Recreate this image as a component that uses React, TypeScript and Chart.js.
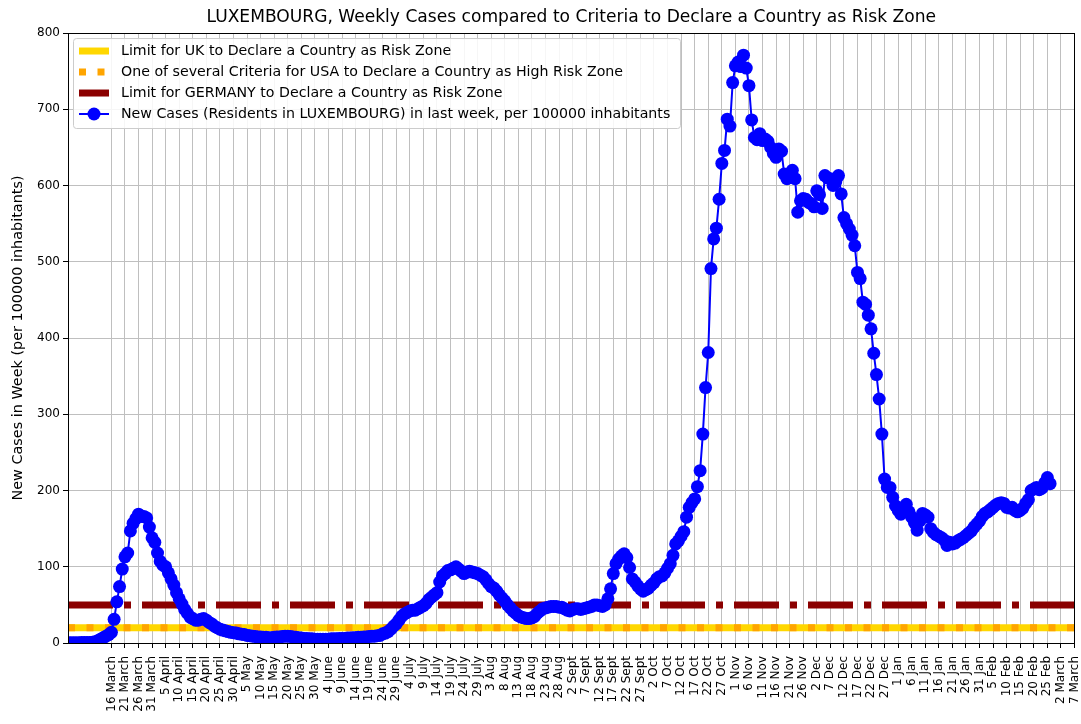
import React, { useEffect, useRef } from 'react';
import { Chart, registerables } from 'chart.js';

Chart.register(...registerables);

const TITLE = 'LUXEMBOURG, Weekly Cases compared to Criteria to Declare a Country as Risk Zone';
const Y_LABEL = 'New Cases in Week (per 100000 inhabitants)';

const TICK_LABELS = [
  '16 March', '21 March', '26 March', '31 March', '5 April', '10 April', '15 April', '20 April',
  '25 April', '30 April', '5 May', '10 May', '15 May', '20 May', '25 May', '30 May', '4 June',
  '9 June', '14 June', '19 June', '24 June', '29 June', '4 July', '9 July', '14 July', '19 July',
  '24 July', '29 July', '3 Aug', '8 Aug', '13 Aug', '18 Aug', '23 Aug', '28 Aug', '2 Sept',
  '7 Sept', '12 Sept', '17 Sept', '22 Sept', '27 Sept', '2 Oct', '7 Oct', '12 Oct', '17 Oct',
  '22 Oct', '27 Oct', '1 Nov', '6 Nov', '11 Nov', '16 Nov', '21 Nov', '26 Nov', '2 Dec', '7 Dec',
  '12 Dec', '17 Dec', '22 Dec', '27 Dec', '1 Jan', '6 Jan', '11 Jan', '16 Jan', '21 Jan', '26 Jan',
  '31 Jan', '5 Feb', '10 Feb', '15 Feb', '20 Feb', '25 Feb', '2 March', '7 March',
];
const TICK_STEP = 5;
const FIRST_DAY = -16; // day index of the first value (16 March = 0)
const LAST_DAY = 355;  // right end of the axis (7 March)

const UK_LIMIT = 20;
const USA_LIMIT = 20;
const GERMANY_LIMIT = 50;

const LEGEND_LABELS = [
  'Limit for UK to Declare a Country as Risk Zone',
  'One of several Criteria for USA to Declare a Country as High Risk Zone',
  'Limit for GERMANY to Declare a Country as Risk Zone',
  'New Cases (Residents in LUXEMBOURG) in last week, per 100000 inhabitants',
];

// one value per day, starting at FIRST_DAY
const weeklyCases = [
  0.2, 0.2, 0.2, 0.3, 0.3, 0.5, 0.5, 0.6, 0.8, 1.0, 1.5, 3, 5, 7, 9, 11,
  14, 31, 54, 74, 97, 113, 118, 147, 157, 163, 169, 166, 166, 164, 152, 138, 132, 118, 107, 102,
  100, 92, 84, 76, 66, 58, 51, 44, 39, 34, 32, 30, 30, 31, 32, 30, 27, 25, 22, 20, 18, 17, 16, 15, 14, 13.5, 13, 12, 11.5, 11, 10,
  9.5, 9, 8.5, 8, 8, 7.5, 7.5, 7, 7, 7.5, 8, 8, 8.5, 9, 9, 8.5, 8, 7.5, 7, 6.5, 6, 6, 5.5, 5.5, 5,
  5, 5, 5, 5, 5, 5.5, 5.5, 5.5, 6, 6, 6, 6.5, 6.5, 7, 7, 7.5, 7.5, 8, 8, 8.5, 9, 9, 9.5, 10, 12,
  13, 15, 18, 22, 25, 30, 35, 38, 40, 42, 43, 43, 45, 47, 49, 52, 57, 60, 63, 66,
  80, 88, 91, 95, 96, 98, 100, 97, 94, 91, 93, 94, 93, 92, 91, 89, 87, 83, 78, 74,
  72, 68, 63, 59, 55, 50, 46, 42, 39, 36, 34, 33, 32, 32, 33, 35, 39, 42, 45, 46,
  47, 48, 48, 48, 47, 47, 45, 43, 42, 44, 45, 45, 44, 45, 46, 47, 48, 50, 50, 49, 48,
  50, 58, 71, 91, 104, 110, 114, 117, 112, 99, 84, 80, 75, 71, 68, 70, 72, 76, 79,
  84, 87, 88, 92, 98, 104, 115, 130, 134, 140, 146, 165, 178, 184, 189, 205, 226, 274, 335, 381,
  491, 530, 544, 582, 629, 646, 687, 678, 735, 757, 762, 756, 771, 754, 731,
  686, 663, 660, 668, 659, 661, 658, 650, 642, 637, 648, 645, 615, 609, 615, 620, 609, 565,
  580, 583, 582, 578, 576, 572, 593, 588, 570, 613, 610, 609, 600, 605, 613, 589,
  558, 550, 543, 535, 521, 486, 478, 447, 444, 430, 412, 380, 352, 320, 274, 215, 204, 204, 191, 180,
  174, 169, 175, 182, 172, 165, 158, 148, 160, 170, 168, 165, 150, 145, 142, 140, 138, 135, 128, 132, 130,
  131, 134, 136, 138, 141, 144, 147, 152, 156, 160, 166, 170, 172, 175, 178, 181, 183, 184, 183, 178,
  177, 178, 174, 172, 174, 177, 183, 188, 200, 202, 204, 201, 203, 210, 217, 209,
];

const FONT = 'DejaVu Sans';
const UK_COLOR = '#FFD700';
const USA_COLOR = '#FFA500';
const GERMANY_COLOR = '#8B0000';
const CASES_COLOR = '#0000FF';
const LIMIT_WIDTH = 7;
const USA_DASH = [7, 11.5];
const GERMANY_DASH = [45, 11, 7, 11];

const framePlugin = {
  id: 'mplFrame',
  afterDatasetsDraw(chart: any) {
    const { ctx, chartArea } = chart;
    ctx.save();
    ctx.strokeStyle = '#000000';
    ctx.lineWidth = 1;
    ctx.strokeRect(
      Math.round(chartArea.left) + 0.5,
      Math.round(chartArea.top) + 0.5,
      Math.round(chartArea.right - chartArea.left) - 1,
      Math.round(chartArea.bottom - chartArea.top),
    );
    ctx.restore();
  },
};

const legendPlugin = {
  id: 'mplLegend',
  afterDraw(chart: any) {
    const { ctx, chartArea } = chart;
    const x0 = chartArea.left + 5;
    const y0 = chartArea.top + 5;
    const w = 607;
    const h = 90;
    ctx.save();
    ctx.beginPath();
    if (ctx.roundRect) ctx.roundRect(x0 + 0.5, y0 + 0.5, w, h, 3);
    else ctx.rect(x0 + 0.5, y0 + 0.5, w, h);
    ctx.fillStyle = 'rgba(255,255,255,0.85)';
    ctx.fill();
    ctx.strokeStyle = '#cccccc';
    ctx.lineWidth = 1;
    ctx.stroke();

    const hx0 = chartArea.left + 11;
    const hx1 = chartArea.left + 41;
    const tx = chartArea.left + 53;
    const rows = [18, 39, 60, 81].map((d) => chartArea.top + d);

    ctx.lineCap = 'butt';
    ctx.beginPath();
    ctx.strokeStyle = UK_COLOR;
    ctx.lineWidth = LIMIT_WIDTH;
    ctx.setLineDash([]);
    ctx.moveTo(hx0, rows[0]);
    ctx.lineTo(hx1, rows[0]);
    ctx.stroke();

    ctx.beginPath();
    ctx.strokeStyle = USA_COLOR;
    ctx.setLineDash(USA_DASH);
    ctx.moveTo(hx0, rows[1]);
    ctx.lineTo(hx1, rows[1]);
    ctx.stroke();

    ctx.beginPath();
    ctx.strokeStyle = GERMANY_COLOR;
    ctx.setLineDash([]);
    ctx.moveTo(hx0, rows[2]);
    ctx.lineTo(hx1, rows[2]);
    ctx.stroke();

    ctx.beginPath();
    ctx.strokeStyle = CASES_COLOR;
    ctx.lineWidth = 2;
    ctx.moveTo(hx0, rows[3]);
    ctx.lineTo(hx1, rows[3]);
    ctx.stroke();
    ctx.beginPath();
    ctx.fillStyle = CASES_COLOR;
    ctx.arc((hx0 + hx1) / 2, rows[3], 6.5, 0, Math.PI * 2);
    ctx.fill();

    ctx.fillStyle = '#000000';
    ctx.font = `14.2px "${FONT}"`;
    ctx.textBaseline = 'middle';
    ctx.textAlign = 'left';
    LEGEND_LABELS.forEach((t, k) => ctx.fillText(t, tx, rows[k] + 0.5));
    ctx.restore();
  },
};

export default function App() {
  const canvasRef = useRef<HTMLCanvasElement | null>(null);

  useEffect(() => {
    if (!canvasRef.current) return;
    const cases = weeklyCases.map((v, k) => ({ x: FIRST_DAY + k, y: v }));
    const limitLine = (v: number) => [
      { x: FIRST_DAY, y: v },
      { x: LAST_DAY, y: v },
    ];

    const chart = new Chart(canvasRef.current, {
      type: 'line',
      data: {
        datasets: [
          {
            label: LEGEND_LABELS[3],
            data: cases,
            borderColor: CASES_COLOR,
            backgroundColor: CASES_COLOR,
            borderWidth: 2,
            pointRadius: 6.5,
            pointBorderWidth: 0,
            pointBackgroundColor: CASES_COLOR,
            tension: 0,
            clip: 0,
            order: 0,
          },
          {
            label: LEGEND_LABELS[2],
            data: limitLine(GERMANY_LIMIT),
            borderColor: GERMANY_COLOR,
            borderWidth: LIMIT_WIDTH,
            borderDash: GERMANY_DASH,
            borderCapStyle: 'butt',
            pointRadius: 0,
            order: 1,
          },
          {
            label: LEGEND_LABELS[1],
            data: limitLine(USA_LIMIT),
            borderColor: USA_COLOR,
            borderWidth: LIMIT_WIDTH,
            borderDash: USA_DASH,
            borderCapStyle: 'butt',
            pointRadius: 0,
            order: 2,
          },
          {
            label: LEGEND_LABELS[0],
            data: limitLine(UK_LIMIT),
            borderColor: UK_COLOR,
            borderWidth: LIMIT_WIDTH,
            borderCapStyle: 'butt',
            pointRadius: 0,
            order: 3,
          },
        ] as any,
      },
      options: {
        responsive: true,
        maintainAspectRatio: false,
        animation: false,
        devicePixelRatio: 1,
        layout: { padding: { top: 0, right: 6, bottom: 0, left: 0 } },
        plugins: {
          legend: { display: false },
          tooltip: { enabled: false },
          title: {
            display: true,
            text: TITLE,
            fullSize: false,
            color: '#000000',
            font: { family: FONT, size: 17.1, weight: 'normal' },
            padding: { top: 7.7, bottom: 4.8 },
          },
        },
        scales: {
          x: {
            type: 'linear',
            min: FIRST_DAY,
            max: LAST_DAY,
            afterBuildTicks: (scale: any) => {
              scale.ticks = TICK_LABELS.map((_, k) => ({ value: k * TICK_STEP }));
            },
            afterFit: (scale: any) => {
              scale.height = 81;
              scale.paddingLeft = 0;
              scale.paddingRight = 0;
            },
            ticks: {
              autoSkip: false,
              minRotation: 90,
              maxRotation: 90,
              padding: 8,
              color: '#000000',
              font: { family: FONT, size: 12 },
              callback: (value: any) => TICK_LABELS[Math.round(Number(value) / TICK_STEP)] ?? '',
            },
            grid: {
              color: '#bfbfbf',
              lineWidth: 1,
              tickColor: '#000000',
              tickLength: 5,
              tickWidth: 1,
            },
            border: { display: true, color: '#000000', width: 1 },
          },
          y: {
            type: 'linear',
            min: 0,
            max: 800,
            afterFit: (scale: any) => {
              scale.width = 68;
              scale.paddingTop = 0;
              scale.paddingBottom = 0;
            },
            ticks: {
              stepSize: 100,
              padding: 3,
              color: '#000000',
              font: { family: FONT, size: 12 },
            },
            grid: {
              color: '#bfbfbf',
              lineWidth: 1,
              tickColor: '#000000',
              tickLength: 5,
              tickWidth: 1,
            },
            border: { display: true, color: '#000000', width: 1 },
            title: {
              display: true,
              text: Y_LABEL,
              color: '#000000',
              font: { family: FONT, size: 14.4 },
              padding: { top: 9.5, bottom: 0 },
            },
          },
        },
      },
      plugins: [framePlugin, legendPlugin],
    });

    return () => chart.destroy();
  }, []);

  return (
    <div style={{ position: 'absolute', left: 0, top: 0, width: 1081, height: 724, background: '#ffffff' }}>
      <canvas ref={canvasRef} />
    </div>
  );
}
